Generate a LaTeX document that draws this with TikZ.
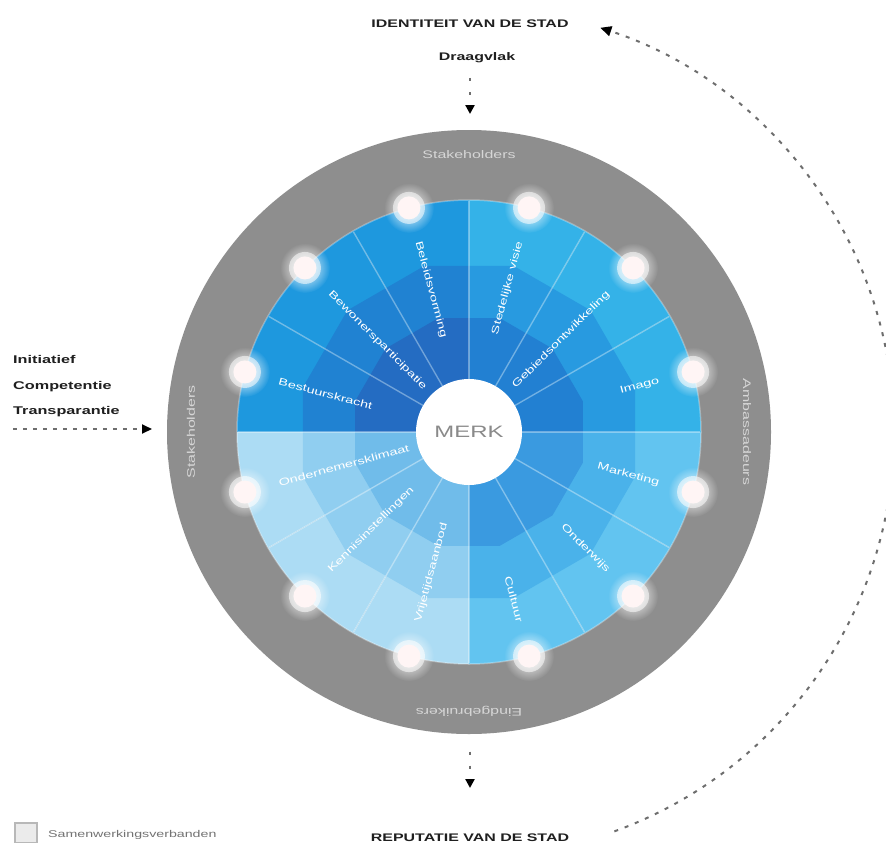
\documentclass[tikz,border=0pt]{standalone}
\usepackage{fontspec}
\setmainfont{Liberation Sans}
\newfontfamily\wfont[FakeStretch=1.45]{Liberation Sans}
\usetikzlibrary{arrows.meta,calc,fadings}
\definecolor{ringgray}{RGB}{142,142,142}
\definecolor{ringtext}{RGB}{214,214,214}
\definecolor{ulO}{RGB}{30,152,222}
\definecolor{ulM}{RGB}{32,130,210}
\definecolor{ulI}{RGB}{36,108,194}
\definecolor{urO}{RGB}{52,178,232}
\definecolor{urM}{RGB}{40,154,224}
\definecolor{urI}{RGB}{34,128,210}
\definecolor{lrO}{RGB}{98,196,240}
\definecolor{lrM}{RGB}{74,178,234}
\definecolor{lrI}{RGB}{58,154,224}
\definecolor{llO}{RGB}{172,220,244}
\definecolor{llM}{RGB}{144,206,240}
\definecolor{llI}{RGB}{112,188,234}
\definecolor{dotgray}{RGB}{110,110,110}
\definecolor{merkgray}{RGB}{138,138,138}
\tikzfading[name=glowfade, inner color=transparent!0, outer color=transparent!100]
\tikzset{
  ttl/.style={font=\wfont\bfseries\fontsize{11}{13}\selectfont, text=black!88, inner sep=0pt},
  lft/.style={font=\wfont\bfseries\fontsize{11.2}{13}\selectfont, text=black!88, inner sep=0pt},
  seglbl/.style={font=\wfont\fontsize{10}{12}\selectfont, text=white, inner sep=0pt},
  ringlbl/.style={font=\wfont\fontsize{11}{12}\selectfont, text=ringtext, inner sep=0pt},
  legtxt/.style={font=\wfont\fontsize{9.8}{11}\selectfont, text=black!55, inner sep=0pt},
  merkc/.style={circle, fill=white, minimum size=106pt, inner sep=0pt,
     font=\wfont\fontsize{16.5}{18}\selectfont, text=merkgray},
  divline/.style={white, opacity=0.35, line width=1.4pt},
  edgeline/.style={white, opacity=0.3, line width=1.5pt},
  dotarrow/.style={dotgray, line width=2.2pt, dash pattern=on 3pt off 11pt,
     -{Triangle[color=black, length=9pt, width=9pt]}},
  leftarrow/.style={dotgray, line width=2pt, dash pattern=on 3.5pt off 6.5pt,
     -{Triangle[color=black, length=10pt, width=9pt]}},
  arcline/.style={dotgray, line width=2pt, dash pattern=on 4pt off 7pt,
     -{Triangle[color=black, length=11pt, width=10pt]}},
  legbox/.style={draw=black!28, line width=2pt, fill=black!8, minimum width=22pt,
     minimum height=20pt, inner sep=0pt}
}
\begin{document}
\begin{tikzpicture}[x=1pt,y=-1pt]
\useasboundingbox (0,0) rectangle (886,843);
\fill[white] (0,0) rectangle (886,843);

% ---------- wheel ----------
\begin{scope}[shift={(469,432)}, y=1pt]
  \fill[ringgray] (0,0) circle[radius=302];
  \foreach \q/\co/\cm/\ci in {0/urO/urM/urI,3/ulO/ulM/ulI,6/llO/llM/llI,9/lrO/lrM/lrI}{
    \foreach \j in {0,1,2}{
      \pgfmathsetmacro\a{30*(\q+\j)}
      \pgfmathsetmacro\b{\a+15}
      \pgfmathsetmacro\c{\a+30}
      \fill[\co] (0,0) -- (\a:232) arc[start angle=\a, end angle=\c, radius=232] -- cycle;
      \foreach \R/\col in {172/\cm,118/\ci}{
        \pgfmathsetmacro\Rc{\R*cos(15)}
        \fill[\col] (0,0) -- (\a:\Rc) -- (\b:\R) -- (\c:\Rc) -- cycle;
      }
    }
  }
  \draw[edgeline] (0,0) circle[radius=232];
  \foreach \k in {0,...,11}{
    \draw[divline] ({30*\k}:53) -- ({30*\k}:231);
  }
  \foreach \k in {0,...,11}{
    \fill[white, path fading=glowfade] ({15+30*\k}:232) circle[radius=25];
    \fill[white, opacity=0.55] ({15+30*\k}:232) circle[radius=16];
    \fill[white!96!red] ({15+30*\k}:232) circle[radius=11.5];
  }
  \node[merkc] (merk) at (0,0) {MERK};
  \foreach \ang/\txt [count=\i] in {15/Imago,45/Gebiedsontwikkeling,75/Stedelijke visie,-15/Marketing,-45/Onderwijs,-75/Cultuur}{
    \node[seglbl, anchor=east, rotate=\ang] (segR\i) at (\ang:197) {\txt};
  }
  \foreach \ang/\txt [count=\i] in {105/Beleidsvorming,135/Bewonersparticipatie,165/Bestuurskracht,195/Ondernemersklimaat,225/Kennisinstellingen,255/Vrijetijdsaanbod}{
    \node[seglbl, anchor=west, rotate=\ang-180] (segL\i) at (\ang:197) {\txt};
  }
  \node[ringlbl] (rTop) at (90:277) {Stakeholders};
  \node[ringlbl, rotate=90] (rLeft) at (180:278) {Stakeholders};
  \node[ringlbl, rotate=-90] (rRight) at (0:278) {Ambassadeurs};
  \node[ringlbl, rotate=180] (rBot) at (270:279) {Eindgebruikers};
  \coordinate (arcS) at (-70:425);
  \draw[arcline] (arcS) arc[start angle=-70, end angle=72, radius=425];
\end{scope}

% ---------- texts ----------
\node[ttl, anchor=base] (ident) at (470,28) {IDENTITEIT VAN DE STAD};
\node[ttl, anchor=base] (draag) at (477,60) {Draagvlak};
\node[ttl, anchor=base] (rep) at (470,841) {REPUTATIE VAN DE STAD};
\node[lft, anchor=base west] (init) at (13,363) {Initiatief};
\node[lft, anchor=base west] (comp) at (13,389) {Competentie};
\node[lft, anchor=base west] (transp) at (13,414) {Transparantie};

% ---------- arrows ----------
\coordinate (topS) at (470,78);
\coordinate (topT) at (470,114);
\draw[dotarrow] (topS) -- (topT);
\coordinate (botS) at (470,751.5);
\coordinate (botT) at (470,788);
\draw[dotarrow] (botS) -- (botT);
\coordinate (leftS) at (13,429);
\coordinate (leftT) at (152,429);
\draw[leftarrow] (leftS) -- (leftT);

% ---------- legend ----------
\node[legbox, anchor=north west] (lbox) at (14,822) {};
\node[legtxt, anchor=base west] (ltext) at (48,837) {Samenwerkingsverbanden};
\end{tikzpicture}
\end{document}
